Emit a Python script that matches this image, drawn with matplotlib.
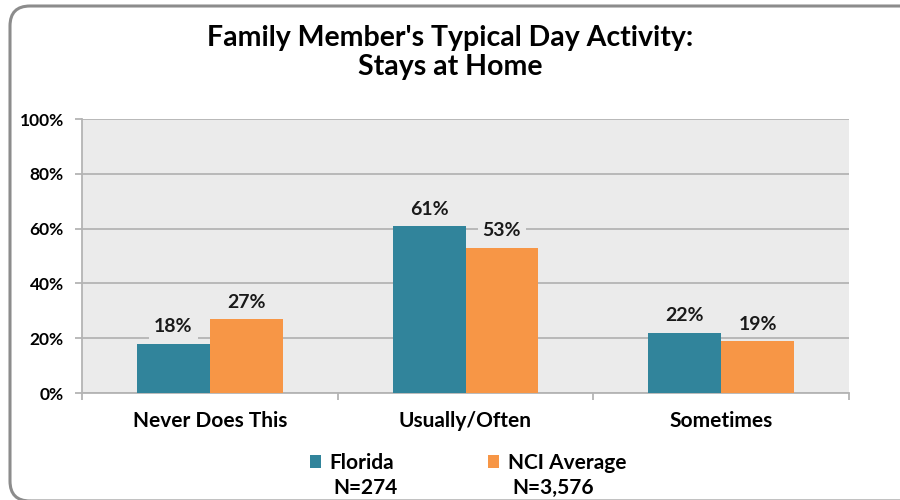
import numpy as np
import matplotlib
matplotlib.use("Agg")
import matplotlib.pyplot as plt
from matplotlib.patches import FancyBboxPatch
from matplotlib.transforms import IdentityTransform

plt.rcParams['font.family'] = ['Lato', 'DejaVu Sans']
plt.rcParams['font.weight'] = 'bold'

categories = ["Never Does This", "Usually/Often", "Sometimes"]
florida = [18, 61, 22]
nci = [27, 53, 19]
series_names = ["Florida", "NCI Average"]
series_n = ["N=274", "N=3,576"]
yticks = [0, 20, 40, 60, 80, 100]

teal = "#31849B"
orange = "#F79646"
grid_c = "#b4b4b4"

fig = plt.figure(figsize=(9, 5), dpi=100)

# rounded outer frame in pixels; right and bottom edges run off the image
frame = FancyBboxPatch((10, -1), 960, 495,
                       boxstyle="round,pad=0,rounding_size=20",
                       transform=IdentityTransform(), fill=False,
                       edgecolor="#8c8c8c", linewidth=2.2, clip_on=False)
fig.add_artist(frame)

ax = fig.add_axes([82 / 900, 107 / 500, 767 / 900, 274 / 500])
ax.set_facecolor("#ebebeb")

x = np.arange(len(categories))
w = 0.285
b1 = ax.bar(x - w / 2, florida, w, color=teal, zorder=3, label=series_names[0])
b2 = ax.bar(x + w / 2, nci, w, color=orange, zorder=3, label=series_names[1])

for bars, vals in ((b1, florida), (b2, nci)):
    for r, v in zip(bars, vals):
        ax.annotate(f"{v}%", (r.get_x() + r.get_width() / 2, v),
                    xytext=(0, 6), textcoords="offset points",
                    ha="center", va="bottom", fontsize=14, fontweight="bold",
                    color="#1a1a1a", zorder=4,
                    bbox=dict(boxstyle="square,pad=0.25", fc="#ebebeb", ec="none"))

ax.set_xlim(-0.5, len(categories) - 0.5)
ax.set_ylim(0, 100)
ax.set_yticks(yticks)
ax.set_yticklabels([f"{t}%" for t in yticks], fontsize=12.5, fontweight="bold")
ax.yaxis.grid(True, color=grid_c, linewidth=1.3, zorder=0)
ax.set_axisbelow(True)

ax.set_xticks(x)
ax.set_xticklabels(categories, fontsize=15, fontweight="bold")
ax.tick_params(axis="x", length=0, pad=13)
ax.set_xticks(np.arange(len(categories) + 1) - 0.5, minor=True)
ax.tick_params(axis="x", which="minor", length=5, color=grid_c, width=1.3)
ax.tick_params(axis="y", length=5, color=grid_c, width=1.3, pad=8)

for s in ("top", "right"):
    ax.spines[s].set_visible(False)
for s in ("left", "bottom"):
    ax.spines[s].set_color(grid_c)
    ax.spines[s].set_linewidth(1.3)

fig.text(0.5, 1 - 38 / 500, "Family Member's Typical Day Activity:", ha="center",
         va="center", fontsize=20.5, fontweight="bold")
fig.text(0.5, 1 - 67 / 500, "Stays at Home", ha="center", va="center",
         fontsize=20.5, fontweight="bold")

leg = fig.legend(handles=[b1, b2], labels=series_names, loc="center left",
                 bbox_to_anchor=(291 / 900, 1 - 463 / 500), ncol=2, frameon=False,
                 handlelength=0.55, handleheight=0.55,
                 handletextpad=0.4, columnspacing=4.5,
                 prop={'weight': 'bold', 'size': 15})
fig.text(333 / 900, 1 - 488 / 500, series_n[0], ha="left", va="center",
         fontsize=15, fontweight="bold")
fig.text(512 / 900, 1 - 488 / 500, series_n[1], ha="left", va="center",
         fontsize=15, fontweight="bold")

fig.savefig("out.png", dpi=100)
